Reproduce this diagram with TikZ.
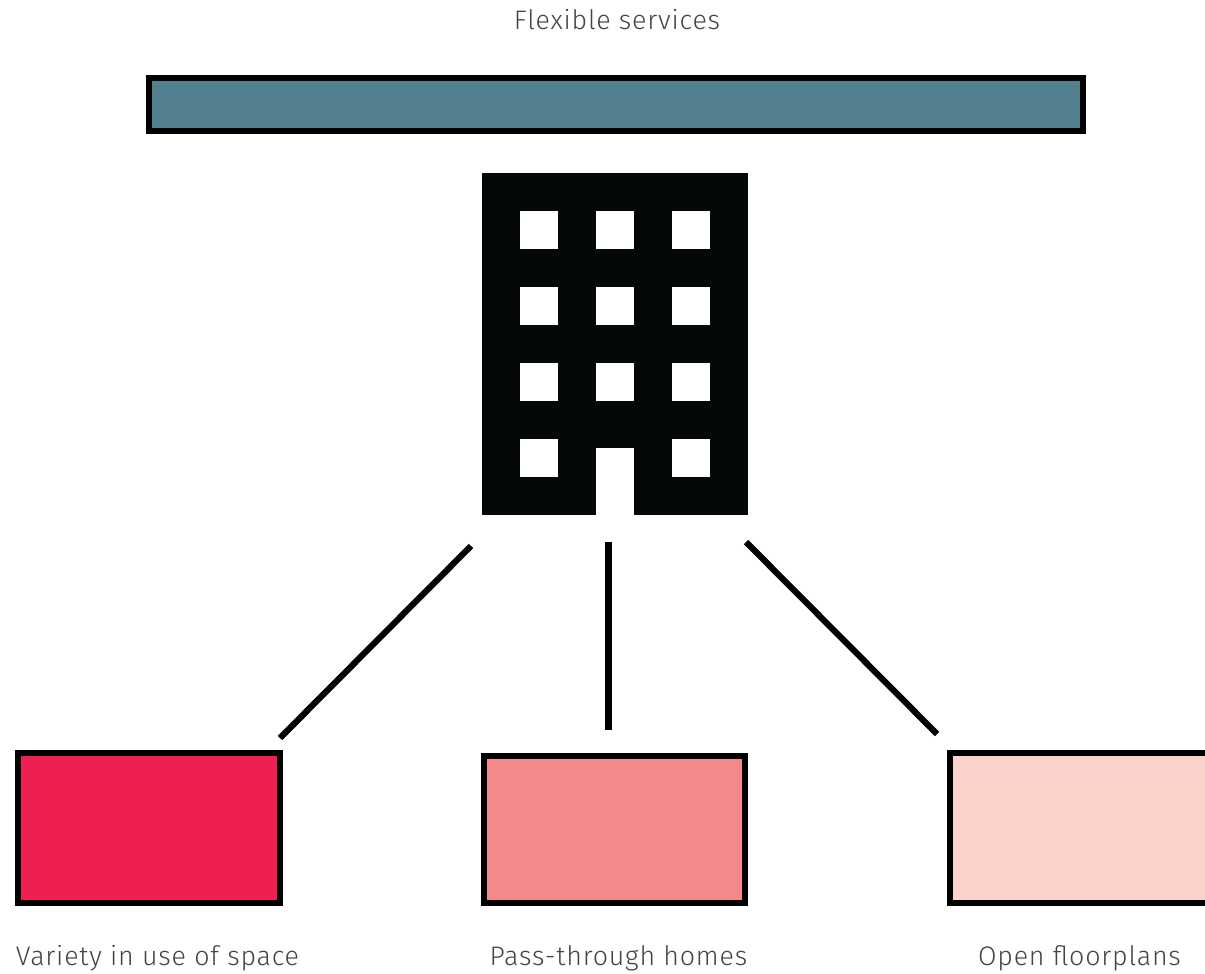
\documentclass[tikz,border=0pt]{standalone}
\usepackage{fontspec}
\setmainfont{Fira Sans Light}[LetterSpace=3]
\definecolor{barteal}{HTML}{53808E}
\definecolor{redbox}{HTML}{F01F52}
\definecolor{pinkbox}{HTML}{F58888}
\definecolor{palebox}{HTML}{FBD3CC}
\definecolor{bldg}{HTML}{040809}
\definecolor{labeltext}{HTML}{444444}
\tikzset{
  framed/.style={draw=black,line width=6pt,inner sep=0pt,outer sep=0pt,rectangle,anchor=north west},
  bldgbody/.style={fill=bldg,inner sep=0pt,outer sep=0pt,rectangle,anchor=north west,minimum width=265.5pt,minimum height=341.5pt},
  pane/.style={fill=white,inner sep=0pt,outer sep=0pt,rectangle,anchor=north west,minimum width=38pt,minimum height=38pt},
  doorway/.style={fill=white,inner sep=0pt,outer sep=0pt,rectangle,anchor=north west,minimum width=38pt,minimum height=66.5pt},
  spoke/.style={draw=black,line width=6.2pt},
  caption/.style={text=labeltext,font=\fontsize{26.8}{30}\selectfont,inner sep=0pt,anchor=base}
}
\begin{document}
\begin{tikzpicture}[x=1pt,y=-1pt]
\clip (0,0) rectangle (1205,974);
\fill[white] (0,0) rectangle (1205,974);
\node[caption] (title) at (617,30) {Flexible services};
\node[framed,fill=barteal,minimum width=934pt,minimum height=53pt] (bar) at (149,78) {};
\node[bldgbody] (building) at (482,173) {};
\foreach \c/\x in {a/520,b/596,c/672}{
  \foreach \r/\y in {1/211,2/287,3/363}{
    \node[pane] (win\c\r) at (\x,\y) {};
  }
}
\node[pane] (wina4) at (520,439) {};
\node[pane] (winc4) at (672,439) {};
\node[doorway] (door) at (596,448) {};
\node[framed,fill=redbox,minimum width=262pt,minimum height=150.5pt] (boxa) at (18,752.5) {};
\node[framed,fill=pinkbox,minimum width=261pt,minimum height=147pt] (boxb) at (484,756) {};
\node[framed,fill=palebox,minimum width=270pt,minimum height=150.5pt] (boxc) at (950,752.5) {};
\coordinate (la1) at (471,546);
\coordinate (la2) at (280,738);
\coordinate (lb1) at (608.5,542);
\coordinate (lb2) at (608.5,730);
\coordinate (lc1) at (746,542);
\coordinate (lc2) at (937,734);
\draw[spoke] (la1) -- (la2);
\draw[spoke] (lb1) -- (lb2);
\draw[spoke] (lc1) -- (lc2);
\node[caption] (capa) at (157.5,965) {Variety in use of space};
\node[caption] (capb) at (618.5,965) {Pass-through homes};
\node[caption] (capc) at (1079.5,965) {Open floorplans};
\end{tikzpicture}
\end{document}
